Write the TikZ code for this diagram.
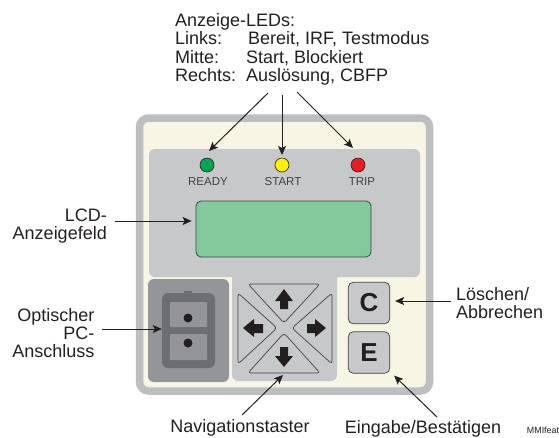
\documentclass[tikz,border=0pt]{standalone}
\usepackage{fontspec}
\usepackage{tikz}
\usetikzlibrary{arrows.meta}
\setmainfont{Liberation Sans}
\definecolor{rahmen}{HTML}{BCBEC0}
\definecolor{creme}{HTML}{F7F5E3}
\definecolor{feld}{HTML}{C7C8CA}
\definecolor{optikhell}{HTML}{939598}
\definecolor{optikdunkel}{HTML}{6D6E71}
\definecolor{anzeige}{HTML}{82CA9C}
\definecolor{schrift}{HTML}{231F20}
\tikzset{
    >={Stealth[length=9pt,width=8pt,inset=2pt]},
    every node/.style={text=schrift,inner sep=0pt,font=\fontsize{18}{18.2}\selectfont},
    pfeil/.style={->,line width=1pt,draw=schrift},
    led/.style={shape=circle,draw=schrift,line width=0.6pt,minimum size=14pt},
    ledtext/.style={anchor=base,text=schrift!85,font=\fontsize{11.5}{12}\selectfont},
    taste/.style={shape=rectangle,rounded corners=5pt,draw=schrift!85,line width=0.7pt,fill=feld,minimum size=41.5pt,font=\fontsize{26}{26}\bfseries},
    navtaste/.style={draw=schrift!85,line width=0.7pt,rounded corners=3pt,fill=feld},
    navpfeil/.style={fill=schrift},
}
\begin{document}
\begin{tikzpicture}[x=1pt,y=-1pt]
    \useasboundingbox (0,0) rectangle (559,437);
    % Gehaeuse
    \draw[draw=rahmen,line width=7.5pt,fill=creme,rounded corners=9pt] (139.5,118) rectangle (429.5,391);
    \fill[feld,rounded corners=6pt] (149,149) rectangle (420,277);
    \fill[feld,rounded corners=6pt] (232,265) rectangle (337,381);
    % LEDs
    \node[led,fill={rgb,255:red,0;green,166;blue,81}] (ready) at (207,165) {};
    \node[led,fill={rgb,255:red,255;green,242;blue,0}] (start) at (282,165) {};
    \node[led,fill={rgb,255:red,237;green,28;blue,36}] (trip) at (358,165) {};
    \node[ledtext] (readytext) at (208,185) {READY};
    \node[ledtext] (starttext) at (283,185) {START};
    \node[ledtext] (triptext) at (362,185) {TRIP};
    % LCD
    \node[shape=rectangle,rounded corners=5pt,draw=schrift!85,line width=0.8pt,fill=anzeige,minimum width=175pt,minimum height=56pt] (lcd) at (283.5,229) {};
    % optischer Anschluss
    \fill[optikhell,rounded corners=6pt] (148,279) rectangle (229,382);
    \fill[optikdunkel] (184,291) rectangle (192,296);
    \node[shape=rectangle,rounded corners=6pt,fill=optikdunkel,minimum width=53pt,minimum height=75pt] (optik) at (188.5,330.5) {};
    \fill[optikhell,rounded corners=1pt] (170,302) rectangle (207,327);
    \fill[optikhell,rounded corners=1pt] (170,334) rectangle (207,360);
    \node[shape=circle,fill=schrift,minimum size=9pt] (punkta) at (188,318) {};
    \node[shape=circle,fill=schrift,minimum size=9pt] (punktb) at (188,343) {};
    % Navigationstasten
    \coordinate (navmitte) at (284,328);
    \draw[navtaste] (248,284) -- (320,284) -- (284,323) -- cycle;
    \draw[navtaste] (238,293) -- (277,328) -- (238,364) -- cycle;
    \draw[navtaste] (332,293) -- (292,328) -- (332,364) -- cycle;
    \draw[navtaste] (248,373) -- (320,373) -- (284,333) -- cycle;
    \fill[navpfeil] (284,289) -- (293,301) -- (288,301) -- (288,309) -- (280,309) -- (280,301) -- (275,301) -- cycle;
    \fill[navpfeil] (284,367) -- (293,356) -- (288,356) -- (288,347) -- (280,347) -- (280,356) -- (275,356) -- cycle;
    \fill[navpfeil] (243,328) -- (254,319) -- (254,324) -- (263,324) -- (263,333) -- (254,333) -- (254,337) -- cycle;
    \fill[navpfeil] (326,328) -- (315,319) -- (315,324) -- (307,324) -- (307,333) -- (315,333) -- (315,337) -- cycle;
    % Tasten
    \node[taste] (ctaste) at (369,303) {C};
    \node[taste] (etaste) at (369,352.5) {E};
    % Beschriftung
    \node[anchor=north west,align=left] (ledlegende) at (175,13.5) {Anzeige-LEDs:\\\makebox[73pt][l]{Links:}Bereit, IRF, Testmodus\\\makebox[71pt][l]{Mitte:}Start, Blockiert\\\makebox[71pt][l]{Rechts:}Auslösung, CBFP};
    \node[anchor=east,align=right] (lcdtext) at (107,226) {LCD-\\Anzeigefeld};
    \node[anchor=east,align=right] (optiktext) at (94.5,333) {Optischer\\PC-\\Anschluss};
    \node[anchor=west,align=left] (ctext) at (456,303) {Löschen/\\Abbrechen};
    \node[anchor=base] (navtext) at (240,432) {Navigationstaster};
    \node[anchor=base] (etext) at (423,433) {Eingabe/Bestätigen};
    \node[anchor=base,font=\fontsize{8.9}{9}\selectfont] (mmitext) at (543,433) {MMIfeat};
    % Pfeile
    \coordinate (readyanfang) at (268,93);
    \coordinate (startanfang) at (282,95);
    \coordinate (tripanfang) at (297,92);
    \coordinate (lcdanfang) at (115,221);
    \coordinate (optikanfang) at (102,329);
    \coordinate (canfang) at (451,301);
    \coordinate (eanfang) at (437,417);
    \coordinate (navanfang) at (242,415);
    \draw [pfeil](readyanfang) -- ([shift={(2,-14)}]ready.center);
    \draw [pfeil](startanfang) -- ([shift={(0,-10)}]start.center);
    \draw [pfeil](tripanfang) -- ([shift={(-5,-17)}]trip.center);
    \draw [pfeil](lcdanfang) -- ([xshift=-4pt]lcd.west |- lcdanfang);
    \draw [pfeil](optikanfang) -- (optik.west |- optikanfang);
    \draw [pfeil](canfang) -- ([xshift=5pt]ctaste.east |- canfang);
    \draw [pfeil](eanfang) -- ([shift={(4,2)}]etaste.south east);
    \draw [pfeil](navanfang) -- ([shift={(-1,47)}]navmitte);
\end{tikzpicture}
\end{document}
